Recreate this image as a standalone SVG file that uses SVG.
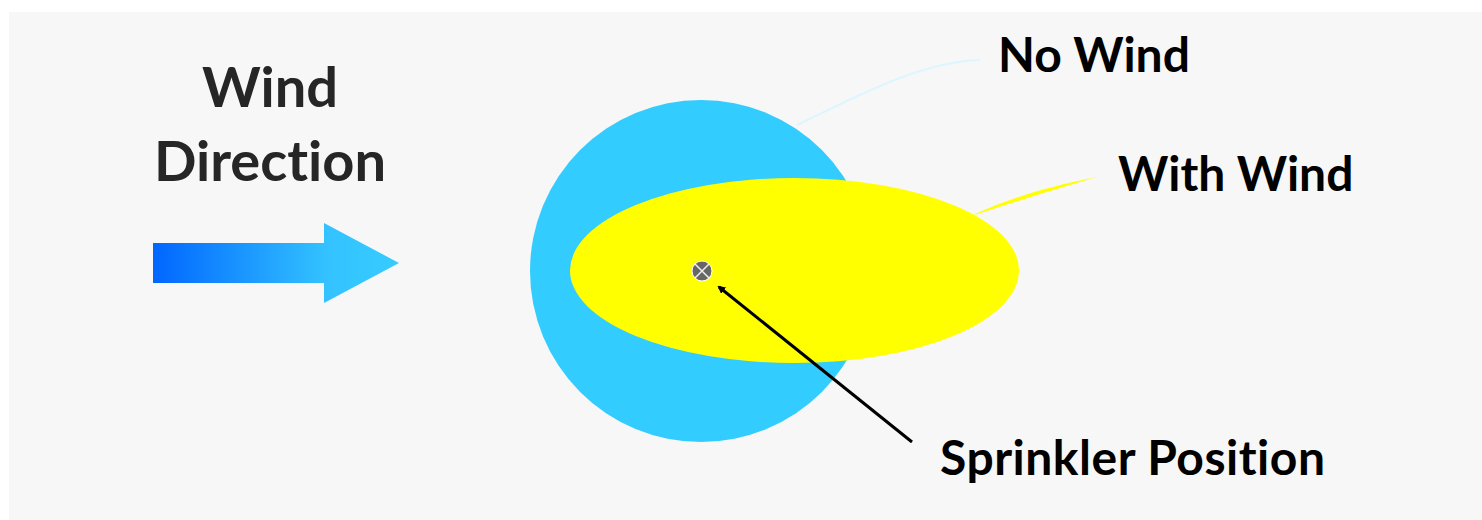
<svg xmlns="http://www.w3.org/2000/svg" width="1482" height="520" viewBox="0 0 1482 520">
<style>
.lbl{font-family:Lato,"Open Sans","Liberation Sans",sans-serif;font-weight:700;fill:#000;font-variant-ligatures:none}
.big{font-size:56px;fill:#262626}
.mid{font-size:48px}
</style>
<defs>
<linearGradient id="g" x1="153" y1="0" x2="399" y2="0" gradientUnits="userSpaceOnUse">
<stop offset="0" stop-color="#0066ff"/>
<stop offset="0.7" stop-color="#33c2ff"/>
<stop offset="1" stop-color="#36ccff"/>
</linearGradient>
<marker id="ah" markerWidth="8" markerHeight="8" refX="6" refY="4" orient="auto" markerUnits="userSpaceOnUse" viewBox="0 0 8 8">
<path d="M0,0 L8,4 L0,8 z" fill="#000"/>
</marker>
</defs>
<rect x="9" y="12" width="1473" height="508" fill="#f7f7f7"/>
<g id="wind-direction">
<text class="lbl big" x="270" y="107" text-anchor="middle">Wind</text>
<text class="lbl big" x="270" y="181" text-anchor="middle">Direction</text>
<path d="M153,243 H324 V223 L399,263 L324,303 V283 H153 Z" fill="url(#g)"/>
</g>
<g id="no-wind-area">
<circle cx="701" cy="271" r="171" fill="#33ccff"/>
</g>
<g id="with-wind-area">
<ellipse cx="794.5" cy="270.5" rx="224.5" ry="92.5" fill="#ffff00"/>
</g>
<g id="sprinkler">
<circle cx="702" cy="271" r="10" fill="#666" stroke="#fff" stroke-width="1"/>
<path d="M695,264 L709,278 M709,264 L695,278" stroke="#eee" stroke-width="1.5"/>
</g>
<g id="connectors">
<path d="M797,125 C860,95 920,62 980,60" fill="none" stroke="#dcf6ff" stroke-width="2"/>
<path d="M973,215 C1010,198 1050,186 1097,177 C1060,188 1020,200 978,214 Z" fill="#ffff00"/>
<line x1="912" y1="442" x2="719" y2="287" stroke="#000" stroke-width="3" marker-end="url(#ah)"/>
</g>
<g id="labels">
<text class="lbl mid" x="998" y="72">No Wind</text>
<text class="lbl mid" x="1118" y="191">With Wind</text>
<text class="lbl mid" x="940" y="475" textLength="385" lengthAdjust="spacing">Sprinkler Position</text>
</g>
</svg>
